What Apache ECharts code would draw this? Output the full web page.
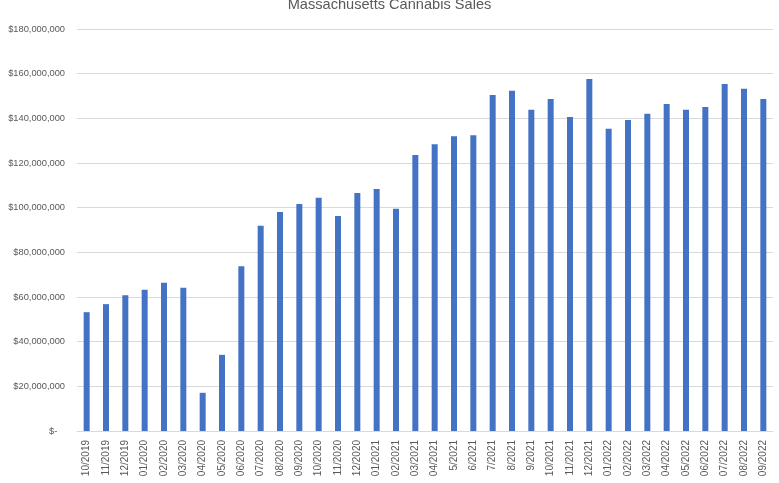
<!DOCTYPE html>
<html>
<head>
<meta charset="utf-8">
<script src="https://cdn.jsdelivr.net/npm/echarts@6/dist/echarts.min.js"></script>
<style>
html,body{margin:0;padding:0;background:#fff;}
#chart{width:779px;height:483px;}
</style>
</head>
<body>
<div id="chart"></div>
<script>
const categories = ["10/2019","11/2019","12/2019","01/2020","02/2020","03/2020","04/2020","05/2020","06/2020","07/2020","08/2020","09/2020","10/2020","11/2020","12/2020","01/2021","02/2021","03/2021","04/2021","5/2021","6/2021","7/2021","8/2021","9/2021","10/2021","11/2021","12/2021","01/2022","02/2022","03/2022","04/2022","05/2022","06/2022","07/2022","08/2022","09/2022"];
const sales = [53200000,56800000,60800000,63200000,66400000,64100000,17100000,34100000,73800000,91900000,98100000,101600000,104400000,96300000,106600000,108400000,99500000,123600000,128400000,132000000,132400000,150500000,152300000,143800000,148700000,140600000,157600000,135300000,139300000,142000000,146400000,143800000,145100000,155400000,153200000,148700000];
const title = "Massachusetts Cannabis Sales";

const chart = echarts.init(document.getElementById('chart'), null, {renderer:'canvas'});
chart.setOption({
  animation:false,
  backgroundColor:'#ffffff',
  title:{
    text:title, left:'center', top:-8,
    textStyle:{fontFamily:'Liberation Sans', fontSize:14.6, fontWeight:'normal', color:'#595959'}
  },
  grid:{left:77, right:6, top:29, bottom:52, containLabel:false},
  xAxis:{
    type:'category', data:categories,
    axisLine:{show:true, lineStyle:{color:'#d9d9d9', width:1}},
    axisTick:{show:false},
    axisLabel:{rotate:90, margin:9, interval:0, fontFamily:'Liberation Sans', fontSize:10, color:'#595959'}
  },
  yAxis:{
    type:'value', min:0, max:180000000, interval:20000000,
    axisLine:{show:false}, axisTick:{show:false},
    splitLine:{lineStyle:{color:'#d9d9d9', width:1}},
    axisLabel:{
      margin:12, fontFamily:'Liberation Sans', fontSize:9.3, color:'#595959',
      formatter:function(v){ return v===0 ? '$-   ' : '$'+v.toLocaleString('en-US'); }
    }
  },
  series:[{
    type:'bar', data:sales, barWidth:6,
    itemStyle:{color:'#4472C4'}
  }]
});
</script>
</body>
</html>
